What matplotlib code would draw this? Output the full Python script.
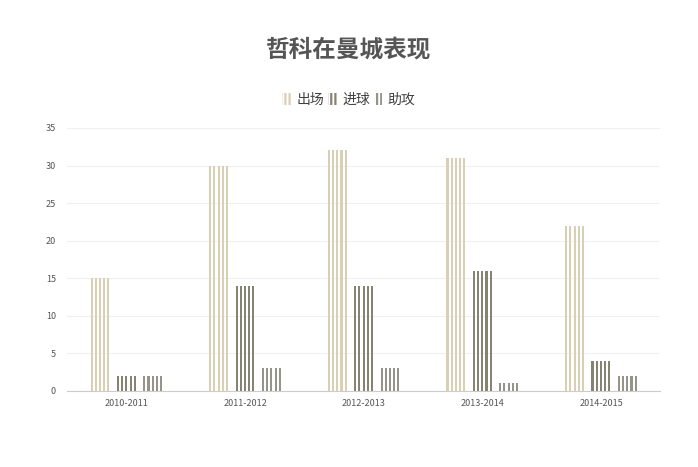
import matplotlib
matplotlib.use('Agg')
import matplotlib.pyplot as plt
from matplotlib.patches import Patch
import numpy as np

plt.rcParams['font.family'] = ['Noto Sans CJK SC', 'DejaVu Sans']
plt.rcParams['hatch.linewidth'] = 1.6

seasons = ['2010-2011', '2011-2012', '2012-2013', '2013-2014', '2014-2015']
series_names = ['出场', '进球', '助攻']
appearances = [15, 30, 32, 31, 22]
goals = [2, 14, 14, 16, 4]
assists = [2, 3, 3, 1, 2]
colors = ['#d9cfb2', '#858372', '#95948a']

fig = plt.figure(figsize=(6.98, 4.67), dpi=100)
ax = fig.add_axes([0.096, 0.163, 0.85, 0.563])

x = np.arange(len(seasons))
bar_w = 0.16
offset = 0.222
n_stripes = 5
stripe_w = bar_w / (2 * n_stripes - 1)

for i, (vals, col) in enumerate(zip([appearances, goals, assists], colors)):
    center = x + (i - 1) * offset
    for s in range(n_stripes):
        sx = center - bar_w / 2 + stripe_w / 2 + s * 2 * stripe_w
        ax.bar(sx, vals, width=stripe_w, color=col, linewidth=0, zorder=3)

ax.set_xlim(-0.5, len(seasons) - 0.5)
ax.set_ylim(0, 35)
ax.set_yticks(range(0, 36, 5))
ax.set_xticks(x)
ax.set_xticklabels(seasons)
ax.tick_params(axis='both', length=0, labelsize=6.5, colors='#555555')
ax.tick_params(axis='y', pad=8)
ax.tick_params(axis='x', pad=6)
ax.grid(axis='y', color='#f0f0f0', linewidth=0.8, zorder=0)
for side in ['top', 'right', 'left']:
    ax.spines[side].set_visible(False)
ax.spines['bottom'].set_color('#cccccc')
ax.spines['bottom'].set_linewidth(0.8)

fig.text(0.5, 0.895, '哲科在曼城表现', ha='center', va='center',
         fontsize=17, fontweight='bold', color='#555555')

handles = [Patch(facecolor='none', edgecolor=c, hatch='||||', linewidth=0) for c in colors]
fig.legend(handles, series_names, loc='center', bbox_to_anchor=(0.5, 0.786), ncol=3,
           frameon=False, fontsize=10, handlelength=0.6, handleheight=0.9,
           handletextpad=0.4, columnspacing=0.3, labelcolor='#404040')

fig.savefig('out.png', dpi=100, facecolor='white')
